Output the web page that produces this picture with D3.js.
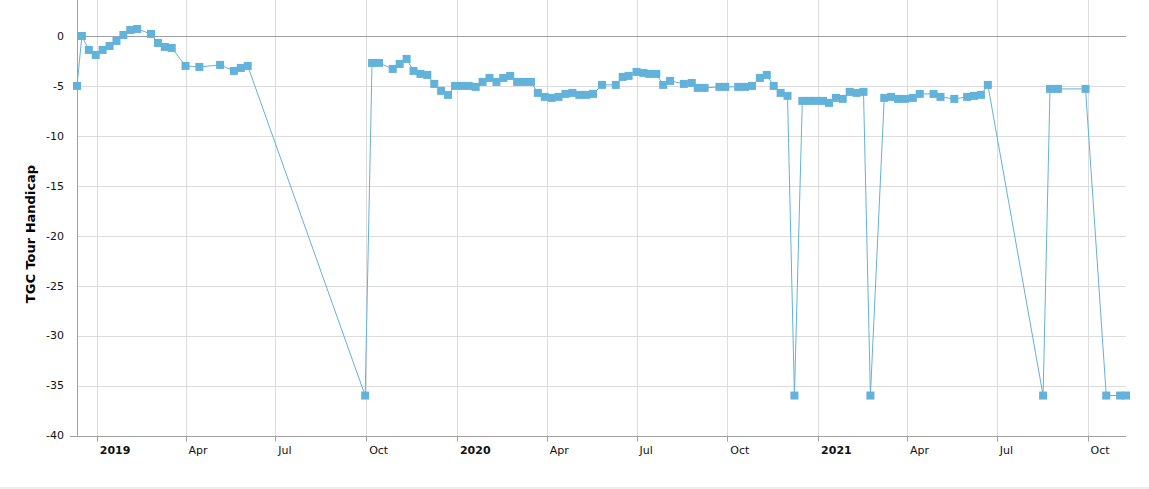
<!DOCTYPE html>
<html>
<head>
<meta charset="utf-8">
<script src="https://cdn.jsdelivr.net/npm/d3@7"></script>
<style>
  html, body { margin: 0; padding: 0; background: #fff; }
  svg { display: block; }
</style>
</head>
<body>
<svg id="chart" width="1149" height="489"></svg>
<script>
// ---- data ----
const dates = [
  "2018-12-12","2018-12-17","2018-12-24","2018-12-31","2019-01-07","2019-01-14","2019-01-21","2019-01-28",
  "2019-02-04","2019-02-11","2019-02-25","2019-03-04","2019-03-11","2019-03-18","2019-04-01","2019-04-15",
  "2019-05-06","2019-05-20","2019-05-27","2019-06-03","2019-09-30",
  "2019-10-07","2019-10-14","2019-10-28","2019-11-04","2019-11-11","2019-11-18","2019-11-25","2019-12-02",
  "2019-12-09","2019-12-16","2019-12-23","2019-12-30","2020-01-06","2020-01-13","2020-01-20","2020-01-27",
  "2020-02-03","2020-02-10","2020-02-17","2020-02-24","2020-03-02","2020-03-09","2020-03-16","2020-03-23",
  "2020-03-30","2020-04-06","2020-04-13","2020-04-20","2020-04-27","2020-05-04","2020-05-11","2020-05-18",
  "2020-05-27","2020-06-10","2020-06-17","2020-06-23","2020-07-01","2020-07-08","2020-07-14","2020-07-21",
  "2020-07-28","2020-08-04","2020-08-18","2020-08-26","2020-09-01","2020-09-08","2020-09-23","2020-09-29",
  "2020-10-12","2020-10-19","2020-10-26","2020-11-03","2020-11-10","2020-11-17","2020-11-24","2020-12-01",
  "2020-12-08","2020-12-16","2020-12-23","2020-12-30","2021-01-06","2021-01-12","2021-01-19","2021-01-26",
  "2021-02-02","2021-02-09","2021-02-16","2021-02-23","2021-03-09","2021-03-16","2021-03-23","2021-03-30",
  "2021-04-07","2021-04-14","2021-04-28","2021-05-05","2021-05-19","2021-06-01","2021-06-08","2021-06-15",
  "2021-06-22","2021-08-17","2021-08-24","2021-09-01","2021-09-29","2021-10-20","2021-11-03","2021-11-09"
];
const handicap = [
  -5, 0, -1.4, -1.9, -1.4, -1.0, -0.5, 0.1,
  0.6, 0.7, 0.2, -0.7, -1.1, -1.2, -3.0, -3.1,
  -2.9, -3.5, -3.2, -3.0, -36,
  -2.7, -2.7, -3.3, -2.8, -2.3, -3.5, -3.8, -3.9,
  -4.8, -5.5, -5.9, -5.0, -5.0, -5.0, -5.1, -4.6,
  -4.2, -4.6, -4.2, -4.0, -4.6, -4.6, -4.6, -5.7,
  -6.1, -6.2, -6.1, -5.8, -5.7, -5.9, -5.9, -5.8,
  -4.9, -4.9, -4.1, -4.0, -3.6, -3.7, -3.8, -3.8,
  -4.9, -4.5, -4.8, -4.7, -5.2, -5.2, -5.1, -5.1,
  -5.1, -5.1, -5.0, -4.2, -3.9, -5.0, -5.7, -6.0,
  -36, -6.5, -6.5, -6.5, -6.5, -6.7, -6.2, -6.3,
  -5.6, -5.7, -5.6, -36, -6.2, -6.1, -6.3, -6.3,
  -6.2, -5.8, -5.8, -6.1, -6.3, -6.1, -6.0, -5.9,
  -4.9, -36, -5.3, -5.3, -5.3, -36, -36, -36
];
const yTicks = [0, -5, -10, -15, -20, -25, -30, -35, -40];
const xTickDates = ["2019-01-01","2019-04-01","2019-07-01","2019-10-01",
                    "2020-01-01","2020-04-01","2020-07-01","2020-10-01",
                    "2021-01-01","2021-04-01","2021-07-01","2021-10-01"];
const xTickLabels = ["2019","Apr","Jul","Oct","2020","Apr","Jul","Oct","2021","Apr","Jul","Oct"];
const yTitle = "TGC Tour Handicap";

// ---- chart ----
(function () {
const parse = d3.utcParse("%Y-%m-%d");
const data = dates.map((d, i) => ({ date: parse(d), value: handicap[i] }));
const svg = d3.select("#chart");
const W = 1149, H = 489;
const pLeft = 77, pRight = 1126, pTop = 0, pBottom = 435.5;
const color = "#62b2da";
const font = "'DejaVu Sans', Verdana, sans-serif";

svg.append("rect").attr("x", 0).attr("y", 0).attr("width", W).attr("height", H).attr("fill", "#fff");
svg.append("rect").attr("x", 0).attr("y", 487).attr("width", W).attr("height", 2).attr("fill", "#efefef");

const x = d3.scaleUtc().domain(d3.extent(data, d => d.date)).range([pLeft, pRight]);
const y = d3.scaleLinear().domain([-40, 3.6]).range([pBottom, pTop]);

// horizontal grid
const gGrid = svg.append("g");
gGrid.selectAll("line.h").data(yTicks.filter(t => t !== 0 && t !== -40)).join("line")
  .attr("x1", pLeft).attr("x2", pRight)
  .attr("y1", d => Math.round(y(d)) + 0.5).attr("y2", d => Math.round(y(d)) + 0.5)
  .attr("stroke", "#dcdcdc").attr("stroke-width", 1);
// vertical grid
const xt = xTickDates.map(parse);
gGrid.selectAll("line.v").data(xt).join("line")
  .attr("x1", d => Math.round(x(d)) + 0.5).attr("x2", d => Math.round(x(d)) + 0.5)
  .attr("y1", pTop).attr("y2", pBottom)
  .attr("stroke", "#dcdcdc").attr("stroke-width", 1);
// zero line
svg.append("line").attr("x1", pLeft).attr("x2", pRight)
  .attr("y1", Math.round(y(0)) + 0.5).attr("y2", Math.round(y(0)) + 0.5)
  .attr("stroke", "#a0a0a0").attr("stroke-width", 1);

// axes
svg.append("line").attr("x1", pLeft + 0.5).attr("x2", pLeft + 0.5).attr("y1", pTop).attr("y2", pBottom)
  .attr("stroke", "#a0a0a0");
svg.append("line").attr("x1", 70).attr("x2", pRight).attr("y1", Math.round(pBottom) + 0.5).attr("y2", Math.round(pBottom) + 0.5)
  .attr("stroke", "#a0a0a0");

// x ticks
const gx = svg.append("g");
gx.selectAll("line").data(xt).join("line")
  .attr("x1", d => Math.round(x(d)) + 0.5).attr("x2", d => Math.round(x(d)) + 0.5)
  .attr("y1", pBottom).attr("y2", pBottom + 6)
  .attr("stroke", "#a0a0a0");
gx.selectAll("text").data(xt).join("text")
  .attr("x", d => x(d) + 3).attr("y", 454)
  .attr("font-family", font).attr("font-size", 11)
  .attr("font-weight", (d, i) => /^\d{4}$/.test(xTickLabels[i]) ? "bold" : "normal")
  .attr("fill", "#111")
  .text((d, i) => xTickLabels[i]);

// y labels
const gy = svg.append("g");
gy.selectAll("text").data(yTicks).join("text")
  .attr("x", 64).attr("y", d => y(d)).attr("dy", "0.35em")
  .attr("text-anchor", "end")
  .attr("font-family", font).attr("font-size", 11).attr("fill", "#111")
  .text(d => String(d));

// y title
svg.append("text")
  .attr("transform", "translate(35,234) rotate(-90)")
  .attr("text-anchor", "middle")
  .attr("font-family", font).attr("font-size", 13).attr("font-weight", "bold").attr("fill", "#000")
  .text(yTitle);

// line
const line = d3.line().x(d => x(d.date)).y(d => y(d.value));
svg.append("path").datum(data).attr("d", line)
  .attr("fill", "none").attr("stroke", color).attr("stroke-width", 1);

// markers
const s = 8;
svg.append("g").selectAll("rect").data(data).join("rect")
  .attr("x", d => x(d.date) - s / 2).attr("y", d => y(d.value) - s / 2)
  .attr("width", s).attr("height", s)
  .attr("fill", color);
})();
</script>
</body>
</html>
